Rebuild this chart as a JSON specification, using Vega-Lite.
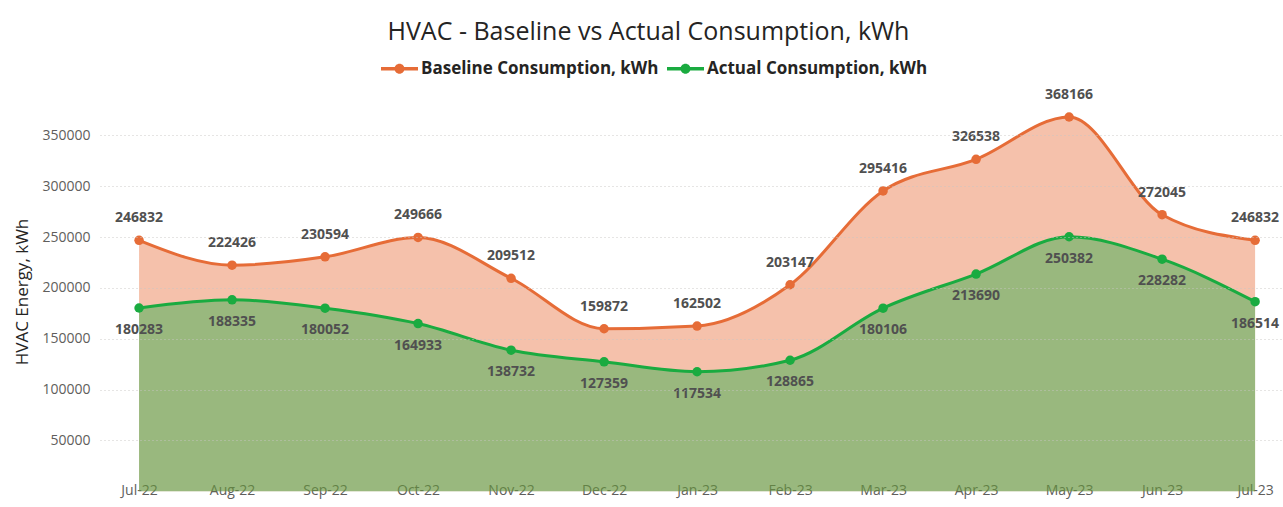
{
  "$schema": "https://vega.github.io/schema/vega-lite/v6.json",
  "width": 1283,
  "height": 507,
  "autosize": {"type": "fit", "contains": "padding"},
  "padding": {"left": 13, "top": 24, "right": 0, "bottom": 10},
  "background": "white",
  "title": {
    "text": "HVAC - Baseline vs Actual Consumption, kWh",
    "font": "Open Sans",
    "fontSize": 25,
    "fontWeight": "normal",
    "color": "#252423",
    "anchor": "middle",
    "frame": "bounds",
    "offset": 43
  },
  "data": {
    "values": [
      {"idx": 0, "month": "Jul-22", "series": "Baseline Consumption, kWh", "value": 246832},
      {"idx": 1, "month": "Aug-22", "series": "Baseline Consumption, kWh", "value": 222426},
      {"idx": 2, "month": "Sep-22", "series": "Baseline Consumption, kWh", "value": 230594},
      {"idx": 3, "month": "Oct-22", "series": "Baseline Consumption, kWh", "value": 249666},
      {"idx": 4, "month": "Nov-22", "series": "Baseline Consumption, kWh", "value": 209512},
      {"idx": 5, "month": "Dec-22", "series": "Baseline Consumption, kWh", "value": 159872},
      {"idx": 6, "month": "Jan-23", "series": "Baseline Consumption, kWh", "value": 162502},
      {"idx": 7, "month": "Feb-23", "series": "Baseline Consumption, kWh", "value": 203147},
      {"idx": 8, "month": "Mar-23", "series": "Baseline Consumption, kWh", "value": 295416},
      {"idx": 9, "month": "Apr-23", "series": "Baseline Consumption, kWh", "value": 326538},
      {"idx": 10, "month": "May-23", "series": "Baseline Consumption, kWh", "value": 368166},
      {"idx": 11, "month": "Jun-23", "series": "Baseline Consumption, kWh", "value": 272045},
      {"idx": 12, "month": "Jul-23", "series": "Baseline Consumption, kWh", "value": 246832},
      {"idx": 0, "month": "Jul-22", "series": "Actual Consumption, kWh", "value": 180283},
      {"idx": 1, "month": "Aug-22", "series": "Actual Consumption, kWh", "value": 188335},
      {"idx": 2, "month": "Sep-22", "series": "Actual Consumption, kWh", "value": 180052},
      {"idx": 3, "month": "Oct-22", "series": "Actual Consumption, kWh", "value": 164933},
      {"idx": 4, "month": "Nov-22", "series": "Actual Consumption, kWh", "value": 138732},
      {"idx": 5, "month": "Dec-22", "series": "Actual Consumption, kWh", "value": 127359},
      {"idx": 6, "month": "Jan-23", "series": "Actual Consumption, kWh", "value": 117534},
      {"idx": 7, "month": "Feb-23", "series": "Actual Consumption, kWh", "value": 128865},
      {"idx": 8, "month": "Mar-23", "series": "Actual Consumption, kWh", "value": 180106},
      {"idx": 9, "month": "Apr-23", "series": "Actual Consumption, kWh", "value": 213690},
      {"idx": 10, "month": "May-23", "series": "Actual Consumption, kWh", "value": 250382},
      {"idx": 11, "month": "Jun-23", "series": "Actual Consumption, kWh", "value": 228282},
      {"idx": 12, "month": "Jul-23", "series": "Actual Consumption, kWh", "value": 186514}
    ]
  },
  "encoding": {
    "x": {
      "field": "idx",
      "type": "quantitative",
      "scale": {"domain": [-0.42, 12.3], "nice": false, "zero": false},
      "axis": {
        "title": null,
        "values": [0, 1, 2, 3, 4, 5, 6, 7, 8, 9, 10, 11, 12],
        "labelExpr": "['Jul-22','Aug-22','Sep-22','Oct-22','Nov-22','Dec-22','Jan-23','Feb-23','Mar-23','Apr-23','May-23','Jun-23','Jul-23'][datum.value]",
        "labelAngle": 0,
        "labelFont": "Open Sans",
        "labelFontSize": 14,
        "labelColor": "#605E5C",
        "labelFlush": false,
        "labelOverlap": false,
        "domain": false,
        "ticks": false,
        "grid": false,
        "labelPadding": 6
      }
    },
    "y": {
      "field": "value",
      "type": "quantitative",
      "scale": {"domain": [14000, 379000], "nice": false, "zero": false},
      "axis": {
        "title": "HVAC Energy, kWh",
        "titleFont": "Open Sans",
        "titleFontSize": 17,
        "titleFontWeight": "normal",
        "titleColor": "#252423",
        "titlePadding": 10,
        "values": [50000, 100000, 150000, 200000, 250000, 300000, 350000],
        "format": "d",
        "labelFont": "Open Sans",
        "labelFontSize": 14,
        "labelColor": "#605E5C",
        "labelPadding": 10,
        "domain": false,
        "ticks": false,
        "grid": true,
        "gridColor": "#C8C6C4",
        "gridDash": [1, 3],
        "gridOpacity": 0.9,
        "zindex": 1
      }
    }
  },
  "layer": [
    {
      "transform": [{"filter": "datum.series === 'Baseline Consumption, kWh'"}],
      "mark": {"type": "area", "interpolate": "monotone", "color": "#E66C37", "opacity": 0.42},
      "encoding": {}
    },
    {
      "transform": [{"filter": "datum.series === 'Actual Consumption, kWh'"}],
      "mark": {"type": "area", "interpolate": "monotone", "color": "#1AAB40", "opacity": 0.42},
      "encoding": {}
    },
    {
      "mark": {"type": "line", "interpolate": "monotone", "strokeWidth": 3},
      "encoding": {
        "color": {
          "field": "series",
          "type": "nominal",
          "scale": {"domain": ["Baseline Consumption, kWh", "Actual Consumption, kWh"], "range": ["#E66C37", "#1AAB40"]},
          "legend": {
            "title": null,
            "orient": "none",
            "legendX": 281,
            "legendY": -56,
            "direction": "horizontal",
            "labelFont": "Open Sans",
            "labelFontSize": 17,
            "labelFontWeight": "bold",
            "labelColor": "#252423",
            "labelLimit": 0,
            "symbolType": "M-1,-0.09 L1,-0.09 L1,0.09 L-1,0.09 Z M-0.27,0 A0.27,0.27 0 1,1 0.27,0 A0.27,0.27 0 1,1 -0.27,0 Z",
            "symbolSize": 1369,
            "symbolStrokeWidth": 0,
            "symbolOpacity": 1,
            "labelOffset": 3,
            "columnPadding": 8
          }
        }
      }
    },
    {
      "mark": {"type": "point", "filled": true, "size": 90, "opacity": 1},
      "encoding": {
        "color": {"field": "series", "type": "nominal", "legend": null}
      }
    },
    {
      "transform": [{"filter": "datum.series === 'Baseline Consumption, kWh'"}],
      "mark": {"type": "text", "dy": -22, "baseline": "middle", "font": "Open Sans", "fontSize": 14, "fontWeight": "bold", "color": "#505050"},
      "encoding": {"text": {"field": "value", "type": "quantitative", "format": "d"}}
    },
    {
      "transform": [{"filter": "datum.series === 'Actual Consumption, kWh'"}],
      "mark": {"type": "text", "dy": 22, "baseline": "middle", "font": "Open Sans", "fontSize": 14, "fontWeight": "bold", "color": "#505050"},
      "encoding": {"text": {"field": "value", "type": "quantitative", "format": "d"}}
    }
  ],
  "config": {
    "view": {"stroke": null}
  }
}
